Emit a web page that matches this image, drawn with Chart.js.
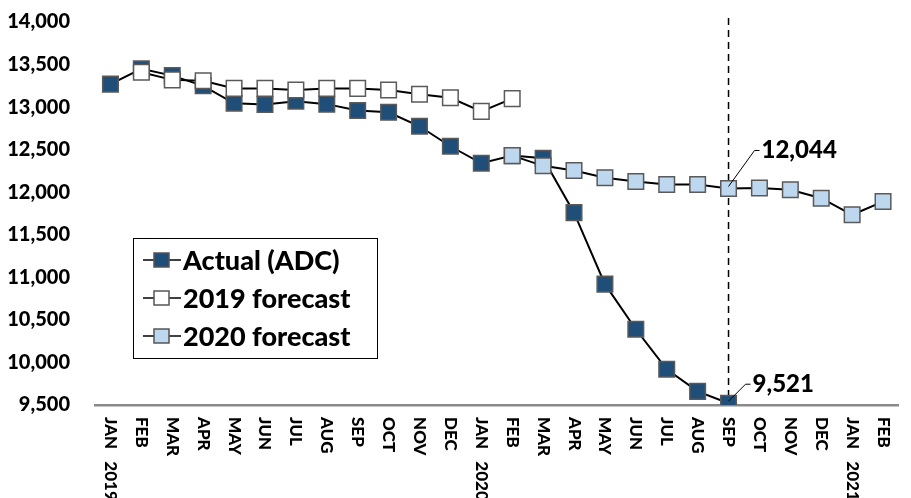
<!DOCTYPE html>
<html>
<head>
<meta charset="utf-8">
<script src="https://cdn.jsdelivr.net/npm/chart.js@4.4.1/dist/chart.umd.min.js"></script>
<style>
  html, body { margin: 0; padding: 0; background: #fff; }
  #wrap { position: relative; width: 911px; height: 498px; }
</style>
</head>
<body>
<div id="wrap"><canvas id="chart"></canvas></div>
<script>
// Meses (eje X)
const months = ['JAN   2019', 'FEB', 'MAR', 'APR', 'MAY', 'JUN', 'JUL', 'AUG', 'SEP', 'OCT', 'NOV', 'DEC',
  'JAN   2020', 'FEB', 'MAR', 'APR', 'MAY', 'JUN', 'JUL', 'AUG', 'SEP', 'OCT', 'NOV', 'DEC',
  'JAN   2021', 'FEB'];

// Series
const actualADC = [13270, 13450, 13370, 13250, 13045, 13030, 13070, 13035, 12960, 12940, 12775, 12540,
  12340, 12430, 12400, 11760, 10920, 10390, 9920, 9660, 9521, null, null, null, null, null];
const forecast2019 = [null, 13410, 13320, 13310, 13220, 13220, 13200, 13220, 13220, 13200, 13150, 13110,
  12950, 13100, null, null, null, null, null, null, null, null, null, null, null, null];
const forecast2020 = [null, null, null, null, null, null, null, null, null, null, null, null,
  null, 12430, 12310, 12255, 12170, 12125, 12090, 12090, 12044, 12050, 12030, 11930, 11735, 11890];

const yTicks = [9500, 10000, 10500, 11000, 11500, 12000, 12500, 13000, 13500, 14000];
const markerIndex = 20; // SEP 2020

const FONT = "Lato, 'Liberation Sans', sans-serif";
const DARK = '#1F4E79';
const LIGHT = '#BDD7EE';

// Etiquetas del eje X rotadas en sentido horario
const xLabelsPlugin = {
  id: 'xLabels',
  afterDraw(chart) {
    const ctx = chart.ctx;
    const x = chart.scales.x;
    const top = chart.chartArea.bottom + 12;
    ctx.save();
    ctx.font = '900 17px ' + FONT;
    ctx.fillStyle = '#000';
    ctx.textBaseline = 'middle';
    ctx.textAlign = 'left';
    months.forEach((m, i) => {
      const px = x.getPixelForValue(i);
      ctx.save();
      ctx.translate(px, top);
      ctx.rotate(Math.PI / 2);
      ctx.fillText(m, 0, 0);
      ctx.restore();
    });
    ctx.restore();
  }
};

// Línea vertical punteada y etiquetas de datos
const annotationPlugin = {
  id: 'annotations',
  beforeDatasetsDraw(chart) {
    const ctx = chart.ctx;
    const px = chart.scales.x.getPixelForValue(markerIndex);
    ctx.save();
    ctx.strokeStyle = '#000';
    ctx.lineWidth = 1.5;
    ctx.setLineDash([7, 5]);
    ctx.beginPath();
    ctx.moveTo(px, 18);
    ctx.lineTo(px, chart.chartArea.bottom);
    ctx.stroke();
    ctx.restore();
  },
  afterDatasetsDraw(chart) {
    const ctx = chart.ctx;
    const xs = chart.scales.x, ys = chart.scales.y;
    const px = xs.getPixelForValue(markerIndex);
    const items = [
      { v: forecast2020[markerIndex], dx: 26, dy: -38 },
      { v: actualADC[markerIndex], dx: 17, dy: -19 }
    ];
    ctx.save();
    ctx.font = '900 24px ' + FONT;
    ctx.fillStyle = '#000';
    ctx.textBaseline = 'middle';
    ctx.textAlign = 'left';
    items.forEach(it => {
      const py = ys.getPixelForValue(it.v);
      ctx.strokeStyle = '#000';
      ctx.lineWidth = 1;
      ctx.beginPath();
      ctx.moveTo(px, py - 2);
      ctx.lineTo(px + it.dx, py + it.dy);
      ctx.lineTo(px + it.dx + 5, py + it.dy);
      ctx.stroke();
      ctx.fillText(it.v.toLocaleString('en-US'), px + it.dx + 7, py + it.dy);
    });
    ctx.restore();
  }
};

// Leyenda dentro del área de la gráfica
const legendPlugin = {
  id: 'boxLegend',
  afterDraw(chart) {
    const ctx = chart.ctx;
    const bx = 133, by = 238, bw = 244, bh = 120;
    ctx.save();
    ctx.fillStyle = '#fff';
    ctx.fillRect(bx, by, bw, bh);
    ctx.strokeStyle = '#000';
    ctx.lineWidth = 1;
    ctx.strokeRect(bx + 0.5, by + 0.5, bw, bh);
    ctx.font = '900 27px ' + FONT;
    ctx.textBaseline = 'middle';
    ctx.textAlign = 'left';
    chart.data.datasets.forEach((ds, i) => {
      const cy = by + 22 + i * 38;
      ctx.strokeStyle = '#000';
      ctx.lineWidth = 1.5;
      ctx.beginPath();
      ctx.moveTo(bx + 10, cy);
      ctx.lineTo(bx + 48, cy);
      ctx.stroke();
      ctx.fillStyle = ds.pointBackgroundColor;
      ctx.fillRect(bx + 21, cy - 7, 15, 14);
      ctx.strokeStyle = '#555';
      ctx.strokeRect(bx + 21, cy - 7, 15, 14);
      ctx.fillStyle = '#000';
      ctx.fillText(ds.label, bx + 50, cy + 1);
    });
    ctx.restore();
  }
};

function serie(label, data, fill, order) {
  return {
    label: label,
    data: data,
    borderColor: '#000',
    borderWidth: 2,
    pointStyle: 'rect',
    pointRadius: 11,
    pointHoverRadius: 11,
    pointBackgroundColor: fill,
    pointBorderColor: '#5a5a5a',
    pointBorderWidth: 1.5,
    tension: 0,
    spanGaps: false,
    order: order
  };
}

new Chart(document.getElementById('chart'), {
  type: 'line',
  data: {
    labels: months,
    datasets: [
      serie('Actual (ADC)', actualADC, DARK, 3),
      serie('2019 forecast', forecast2019, '#FFFFFF', 2),
      serie('2020 forecast', forecast2020, LIGHT, 1)
    ]
  },
  options: {
    responsive: true,
    maintainAspectRatio: false,
    animation: false,
    layout: { padding: { top: 22, right: 0, bottom: 85, left: 0 } },
    plugins: {
      legend: { display: false },
      tooltip: { enabled: false }
    },
    scales: {
      x: {
        offset: true,
        afterFit: scale => {
          scale.paddingLeft = 0;
          scale.paddingRight = 0;
        },
        grid: { display: false },
        border: { display: true, color: '#8a8a8a', width: 2.5 },
        ticks: { display: false }
      },
      y: {
        min: 9500,
        max: 14000,
        afterBuildTicks: scale => { scale.ticks = yTicks.map(v => ({ value: v })); },
        afterFit: scale => {
          scale.width = 95;
          scale.paddingTop = 0;
          scale.paddingBottom = 0;
        },
        grid: { display: false },
        border: { display: false },
        ticks: {
          padding: 17,
          color: '#000',
          font: { family: FONT, size: 20, weight: '900' },
          callback: v => v.toLocaleString('en-US')
        }
      }
    }
  },
  plugins: [annotationPlugin, xLabelsPlugin, legendPlugin]
});
</script>
</body>
</html>
